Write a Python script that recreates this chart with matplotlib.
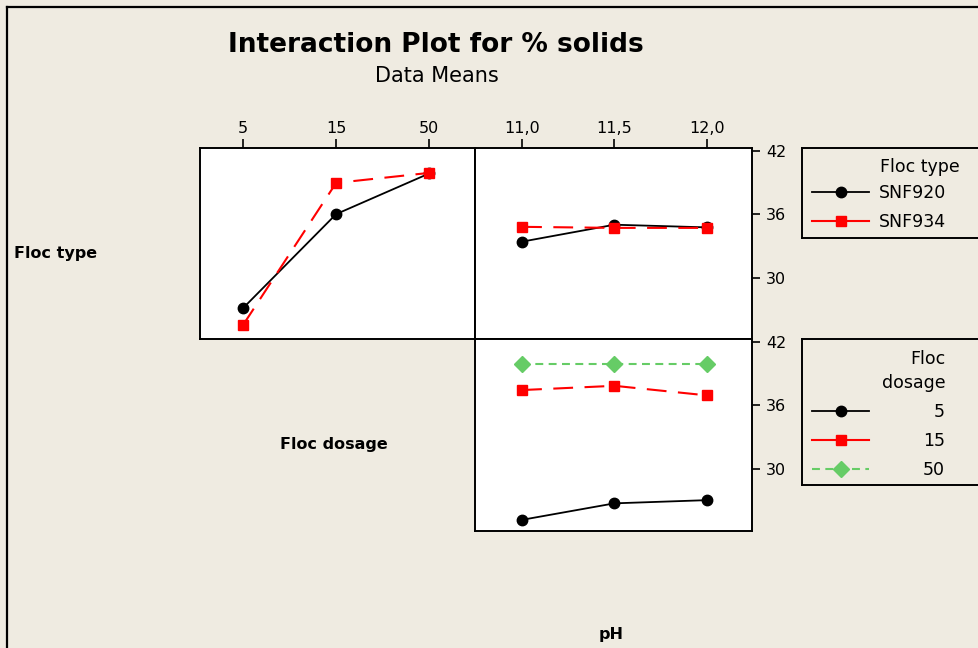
import matplotlib
matplotlib.use("Agg")
import matplotlib.pyplot as plt
from matplotlib.lines import Line2D

# === Data ===
dosage_levels = ["5", "15", "50"]
ph_levels = ["11,0", "11,5", "12,0"]
floc_types = ["SNF920", "SNF934"]
dosage_labels = ["\u20075", "15", "50"]

# Floc type x Floc dosage
type_by_dosage = {
    "SNF920": [27.1, 36.0, 39.85],
    "SNF934": [25.5, 38.95, 39.9],
}
# Floc type x pH
type_by_ph = {
    "SNF920": [33.4, 35.0, 34.75],
    "SNF934": [34.8, 34.7, 34.7],
}
# Floc dosage x pH
dosage_by_ph = {
    "5": [25.25, 26.8, 27.1],
    "15": [37.45, 37.85, 36.95],
    "50": [39.9, 39.9, 39.9],
}

yticks = [30, 36, 42]
ylim = (24.2, 42.25)

BG = "#EFEBE1"
styles = [
    dict(color="black", linestyle="-", lw=1.3, marker="o", ms=7.5),
    dict(color="#FF0000", linestyle=(0, (9.5, 5.5)), lw=1.5, marker="s", ms=7.5),
    dict(color="#66CC66", linestyle=(0, (3.8, 2.6)), lw=1.5, marker="D", ms=8),
]
# legend samples: red drawn solid as in the original
legend_styles = [dict(s) for s in styles]
legend_styles[1]["linestyle"] = "-"

W, H = 979, 648
fig = plt.figure(figsize=(W / 100, H / 100), dpi=100, facecolor=BG)


def box(x0, y0, x1, y1):
    return [x0 / W, 1 - y1 / H, (x1 - x0) / W, (y1 - y0) / H]


ax1 = fig.add_axes(box(200, 148, 475, 339))
ax2 = fig.add_axes(box(475, 148, 752, 339))
ax3 = fig.add_axes(box(475, 339, 752, 531))

for ax in (ax1, ax2, ax3):
    ax.set_facecolor("white")
    ax.set_ylim(*ylim)
    for s in ax.spines.values():
        s.set_linewidth(1.4)
    ax.tick_params(axis="both", which="both", length=0, labelsize=11.5)
    ax.set_xticks([])
    ax.set_yticks([])

ax1.set_xlim(-0.46, 2.49)
ax2.set_xlim(-0.51, 2.49)
ax3.set_xlim(-0.51, 2.49)

xd = range(len(dosage_levels))
xp = range(len(ph_levels))

for i, name in enumerate(floc_types):
    ax1.plot(xd, type_by_dosage[name], **styles[i])
    ax2.plot(xp, type_by_ph[name], **styles[i])

for i, name in enumerate(dosage_levels):
    ax3.plot(xp, dosage_by_ph[name], **styles[i])

# top tick labels
for ax, labels in ((ax1, dosage_levels), (ax2, ph_levels)):
    ax.set_xticks(range(3))
    ax.set_xticklabels(labels)
    ax.xaxis.tick_top()
    ax.tick_params(axis="x", length=6.5, width=1.2, pad=2, labelsize=11.5,
                   top=True, bottom=False, labeltop=True, labelbottom=False)

# right y ticks
for ax in (ax2, ax3):
    ax.set_yticks(yticks)
    ax.yaxis.tick_right()
    ax.tick_params(axis="y", length=6, width=1.2, pad=4, labelsize=11.5)

# titles and labels
fig.text(436 / W, 1 - 45 / H, "Interaction Plot for % solids",
         ha="center", va="center", fontsize=19, fontweight="bold")
fig.text(437 / W, 1 - 76 / H, "Data Means", ha="center", va="center",
         fontsize=15)
fig.text(14 / W, 1 - 253 / H, "Floc type", ha="left", va="center",
         fontsize=11.5, fontweight="bold")
fig.text(334 / W, 1 - 444 / H, "Floc dosage", ha="center", va="center",
         fontsize=11.5, fontweight="bold")
fig.text(611 / W, 1 - 635 / H, "pH", ha="center", va="center",
         fontsize=11.5, fontweight="bold")

# outer frame (left + top only visible)
fig.add_artist(Line2D([7.5 / W, 7.5 / W], [0, 1 - 6.5 / H], color="black",
                      lw=1.6, transform=fig.transFigure))
fig.add_artist(Line2D([7.5 / W, 1], [1 - 6.5 / H, 1 - 6.5 / H], color="black",
                      lw=1.6, transform=fig.transFigure))

# legend boxes
lg1 = fig.add_axes(box(802, 148, 1010, 238))
lg2 = fig.add_axes(box(802, 339, 1010, 485))
for lg in (lg1, lg2):
    lg.set_facecolor(BG)
    lg.set_xticks([])
    lg.set_yticks([])
    for s in lg.spines.values():
        s.set_linewidth(1.4)

h_type = [Line2D([], [], **legend_styles[i]) for i in range(len(floc_types))]
h_dose = [Line2D([], [], **legend_styles[i]) for i in range(len(dosage_levels))]

common = dict(loc="center left", frameon=False, fontsize=12.5, borderpad=0,
              borderaxespad=0, handlelength=3.3, labelspacing=0.62,
              bbox_transform=fig.transFigure)
fig.legend(h_type, floc_types, bbox_to_anchor=(812 / W, 1 - 207.5 / H),
           handletextpad=0.55, **common)
fig.legend(h_dose, dosage_labels, bbox_to_anchor=(812 / W, 1 - 441 / H),
           handletextpad=3.1, **common)

fig.text(880 / W, 1 - 167 / H, "Floc type", ha="left", va="center",
         fontsize=12.5)
fig.text(946 / W, 1 - 371 / H, "Floc\ndosage", ha="right", va="center",
         multialignment="right", linespacing=1.5, fontsize=12.5)

fig.savefig("out.png", dpi=100, facecolor=BG)
